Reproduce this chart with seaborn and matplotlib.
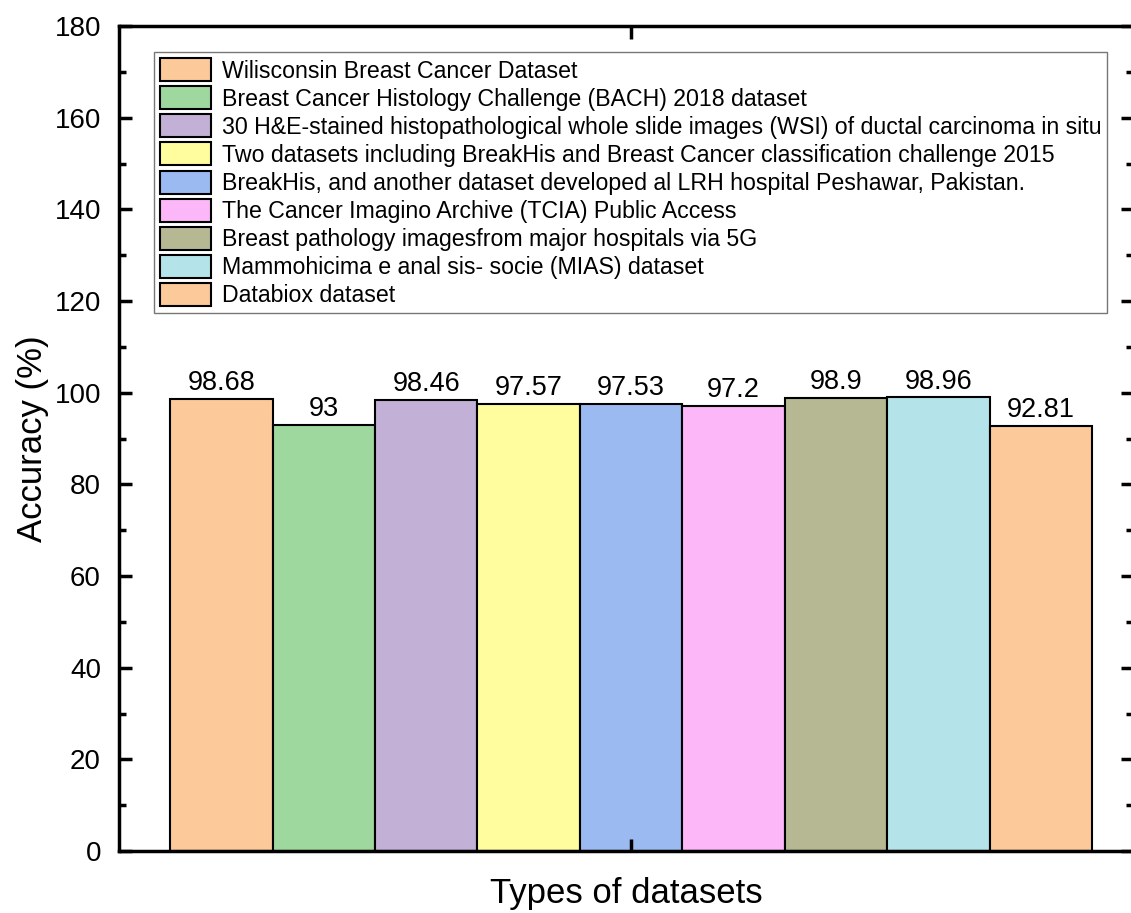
import matplotlib
matplotlib.use("Agg")
import matplotlib.pyplot as plt
import seaborn as sns
import pandas as pd
from matplotlib.ticker import MultipleLocator

# Data
datasets = [
    "Wilisconsin Breast Cancer Dataset",
    "Breast Cancer Histology Challenge (BACH) 2018 dataset",
    "30 H&E-stained histopathological whole slide images (WSI) of ductal carcinoma in situ",
    "Two datasets including BreakHis and Breast Cancer classification challenge 2015",
    "BreakHis, and another dataset developed al LRH hospital Peshawar, Pakistan.",
    "The Cancer Imagino Archive (TCIA) Public Access",
    "Breast pathology imagesfrom major hospitals via 5G",
    "Mammohicima e anal sis- socie (MIAS) dataset",
    "Databiox dataset",
]
accuracy = [98.68, 93, 98.46, 97.57, 97.53, 97.2, 98.9, 98.96, 92.81]
value_labels = ["98.68", "93", "98.46", "97.57", "97.53", "97.2", "98.9", "98.96", "92.81"]
bar_colors = ["#FBC99A", "#9FD89F", "#C2B0D6", "#FFFD9E", "#9CBAF2",
              "#FBB7F7", "#B5B892", "#B4E4EA", "#FBC99A"]

df = pd.DataFrame({"Dataset": datasets, "Accuracy": accuracy})

sns.set_style("ticks")
plt.rcParams["font.family"] = ["Liberation Sans", "DejaVu Sans"]
plt.rcParams["text.color"] = "black"
plt.rcParams["axes.labelcolor"] = "black"
plt.rcParams["xtick.color"] = "black"
plt.rcParams["ytick.color"] = "black"

fig = plt.figure(figsize=(11.31, 9.13), dpi=100)
ax = fig.add_axes([0.1052, 0.0679, 0.8966, 0.9036])

sns.barplot(data=df, x="Dataset", y="Accuracy", hue="Dataset",
            palette=bar_colors, saturation=1, width=1.0,
            edgecolor="black", linewidth=1.5, legend=False, ax=ax)

# value labels on top of the bars
for p, txt in zip(ax.patches, value_labels):
    ax.annotate(txt, (p.get_x() + p.get_width() / 2., p.get_height()),
                xytext=(0, 2), textcoords="offset points",
                ha="center", va="bottom", fontsize=19.5, color="black")

# legend built from the bars
handles = ax.patches[:len(datasets)]
leg = ax.legend(handles, datasets, loc="upper left", bbox_to_anchor=(0.035, 0.968),
                fontsize=16.7, frameon=True, fancybox=False, handlelength=2.2,
                handleheight=1.15, labelspacing=0.16, handletextpad=0.45,
                borderpad=0.25, borderaxespad=0)
leg.get_frame().set_edgecolor("#555555")
leg.get_frame().set_linewidth(1.0)
for t in leg.get_texts():
    t.set_color("black")

ax.set_xlim(-1.0, 8.9)
ax.set_ylim(0, 180)
ax.set_xticks([4])
ax.set_xticklabels([""])
ax.yaxis.set_major_locator(MultipleLocator(20))
ax.yaxis.set_minor_locator(MultipleLocator(10))
ax.set_axisbelow(False)

for side in ["top", "right", "left", "bottom"]:
    ax.spines[side].set_visible(True)
    ax.spines[side].set_linewidth(2.5)
    ax.spines[side].set_color("black")

ax.tick_params(axis="both", which="major", direction="in", length=9, width=2.5,
               top=True, right=True, labelsize=20, pad=13)
ax.tick_params(axis="y", which="minor", direction="in", length=5, width=2.5,
               right=True, left=True)

ax.set_ylabel("Accuracy (%)", fontsize=25, labelpad=4)
ax.set_xlabel("Types of datasets", fontsize=25, labelpad=6)

fig.savefig("out.png", dpi=100)
